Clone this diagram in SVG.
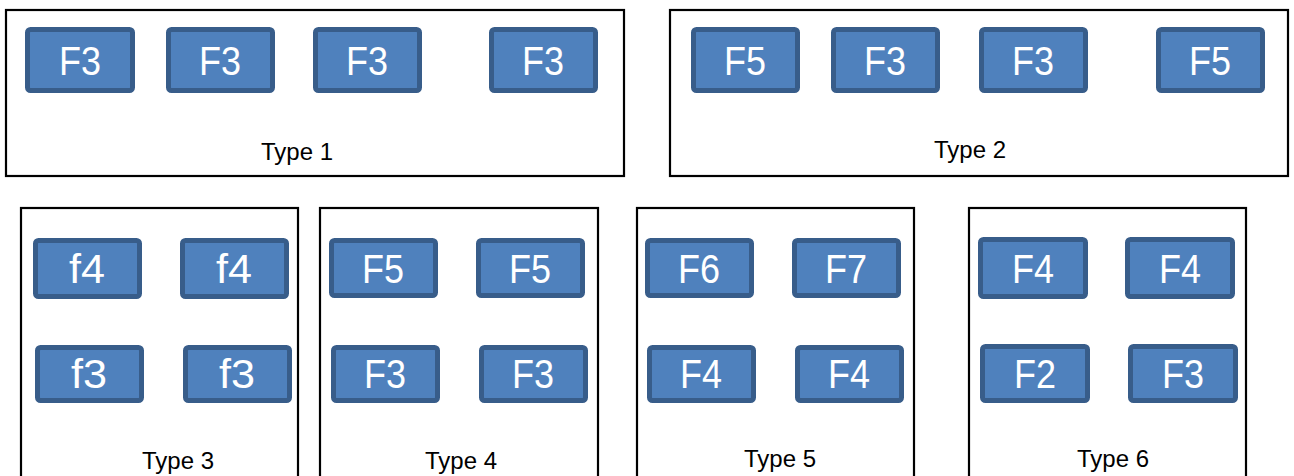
<svg xmlns="http://www.w3.org/2000/svg" width="1294" height="476" viewBox="0 0 1294 476">
<style>
.frame{fill:#fff;stroke:#000;stroke-width:2.2}
.box{fill:#4F81BD;stroke:#385D8A;stroke-width:5}
.bt{font-family:"Liberation Sans",Arial,sans-serif;font-size:40px;fill:#fff;text-anchor:middle}
.lbl{font-family:"Liberation Sans",Arial,sans-serif;font-size:24px;fill:#000;text-anchor:middle}
</style>
<rect width="1294" height="476" fill="#fff"/>
<g id="type1">
<rect class="frame" x="6" y="10" width="618" height="166"/>
<text class="lbl" x="297" y="160">Type 1</text>
</g>
<g id="type2">
<rect class="frame" x="670" y="10" width="618" height="166"/>
<text class="lbl" x="970" y="158">Type 2</text>
</g>
<g id="type3">
<rect class="frame" x="21" y="208" width="277" height="280"/>
<text class="lbl" x="178" y="469">Type 3</text>
</g>
<g id="type4">
<rect class="frame" x="320" y="208" width="278" height="280"/>
<text class="lbl" x="461" y="469">Type 4</text>
</g>
<g id="type5">
<rect class="frame" x="637" y="208" width="277" height="280"/>
<text class="lbl" x="780" y="467">Type 5</text>
</g>
<g id="type6">
<rect class="frame" x="969" y="208" width="277" height="280"/>
<text class="lbl" x="1113" y="467">Type 6</text>
</g>
<g id="t1b1"><rect class="box" x="27.5" y="29.5" width="105" height="61" rx="3"/><text class="bt" x="80" y="75" textLength="42" lengthAdjust="spacingAndGlyphs">F3</text></g>
<g id="t1b2"><rect class="box" x="168.5" y="29.5" width="104" height="61" rx="3"/><text class="bt" x="220" y="75" textLength="42" lengthAdjust="spacingAndGlyphs">F3</text></g>
<g id="t1b3"><rect class="box" x="315.5" y="29.5" width="104" height="61" rx="3"/><text class="bt" x="367" y="75" textLength="42" lengthAdjust="spacingAndGlyphs">F3</text></g>
<g id="t1b4"><rect class="box" x="491.5" y="29.5" width="104" height="61" rx="3"/><text class="bt" x="543" y="75" textLength="42" lengthAdjust="spacingAndGlyphs">F3</text></g>
<g id="t2b1"><rect class="box" x="693.5" y="29.5" width="104" height="61" rx="3"/><text class="bt" x="745" y="75" textLength="42" lengthAdjust="spacingAndGlyphs">F5</text></g>
<g id="t2b2"><rect class="box" x="833.5" y="29.5" width="104" height="61" rx="3"/><text class="bt" x="885" y="75" textLength="42" lengthAdjust="spacingAndGlyphs">F3</text></g>
<g id="t2b3"><rect class="box" x="981.5" y="29.5" width="104" height="61" rx="3"/><text class="bt" x="1033" y="75" textLength="42" lengthAdjust="spacingAndGlyphs">F3</text></g>
<g id="t2b4"><rect class="box" x="1158.5" y="29.5" width="104" height="61" rx="3"/><text class="bt" x="1210" y="75" textLength="42" lengthAdjust="spacingAndGlyphs">F5</text></g>
<g id="t3b1"><rect class="box" x="35.5" y="240.5" width="104" height="56" rx="3"/><text class="bt" x="87" y="283" textLength="36" lengthAdjust="spacingAndGlyphs">f4</text></g>
<g id="t3b2"><rect class="box" x="182.5" y="240.5" width="104" height="56" rx="3"/><text class="bt" x="234" y="283" textLength="36" lengthAdjust="spacingAndGlyphs">f4</text></g>
<g id="t3b3"><rect class="box" x="37.5" y="347.5" width="104" height="53" rx="3"/><text class="bt" x="89" y="388" textLength="36" lengthAdjust="spacingAndGlyphs">f3</text></g>
<g id="t3b4"><rect class="box" x="185.5" y="347.5" width="104" height="53" rx="3"/><text class="bt" x="237" y="388" textLength="36" lengthAdjust="spacingAndGlyphs">f3</text></g>
<g id="t4b1"><rect class="box" x="331.5" y="240.5" width="104" height="55" rx="3"/><text class="bt" x="383" y="283" textLength="42" lengthAdjust="spacingAndGlyphs">F5</text></g>
<g id="t4b2"><rect class="box" x="478.5" y="240.5" width="104" height="55" rx="3"/><text class="bt" x="530" y="283" textLength="42" lengthAdjust="spacingAndGlyphs">F5</text></g>
<g id="t4b3"><rect class="box" x="333.5" y="347.5" width="104" height="53" rx="3"/><text class="bt" x="385" y="388" textLength="42" lengthAdjust="spacingAndGlyphs">F3</text></g>
<g id="t4b4"><rect class="box" x="481.5" y="347.5" width="104" height="53" rx="3"/><text class="bt" x="533" y="388" textLength="42" lengthAdjust="spacingAndGlyphs">F3</text></g>
<g id="t5b1"><rect class="box" x="647.5" y="240.5" width="104" height="55" rx="3"/><text class="bt" x="699" y="283" textLength="42" lengthAdjust="spacingAndGlyphs">F6</text></g>
<g id="t5b2"><rect class="box" x="794.5" y="240.5" width="104" height="55" rx="3"/><text class="bt" x="846" y="283" textLength="42" lengthAdjust="spacingAndGlyphs">F7</text></g>
<g id="t5b3"><rect class="box" x="649.5" y="347.5" width="104" height="53" rx="3"/><text class="bt" x="701" y="388" textLength="42" lengthAdjust="spacingAndGlyphs">F4</text></g>
<g id="t5b4"><rect class="box" x="797.5" y="347.5" width="104" height="53" rx="3"/><text class="bt" x="849" y="388" textLength="42" lengthAdjust="spacingAndGlyphs">F4</text></g>
<g id="t6b1"><rect class="box" x="980.5" y="239.5" width="105" height="57" rx="3"/><text class="bt" x="1033" y="283" textLength="42" lengthAdjust="spacingAndGlyphs">F4</text></g>
<g id="t6b2"><rect class="box" x="1127.5" y="239.5" width="105" height="57" rx="3"/><text class="bt" x="1180" y="283" textLength="42" lengthAdjust="spacingAndGlyphs">F4</text></g>
<g id="t6b3"><rect class="box" x="982.5" y="346.5" width="105" height="54" rx="3"/><text class="bt" x="1035" y="388" textLength="42" lengthAdjust="spacingAndGlyphs">F2</text></g>
<g id="t6b4"><rect class="box" x="1130.5" y="346.5" width="105" height="54" rx="3"/><text class="bt" x="1183" y="388" textLength="42" lengthAdjust="spacingAndGlyphs">F3</text></g>
<g id="connectors"></g>
</svg>
